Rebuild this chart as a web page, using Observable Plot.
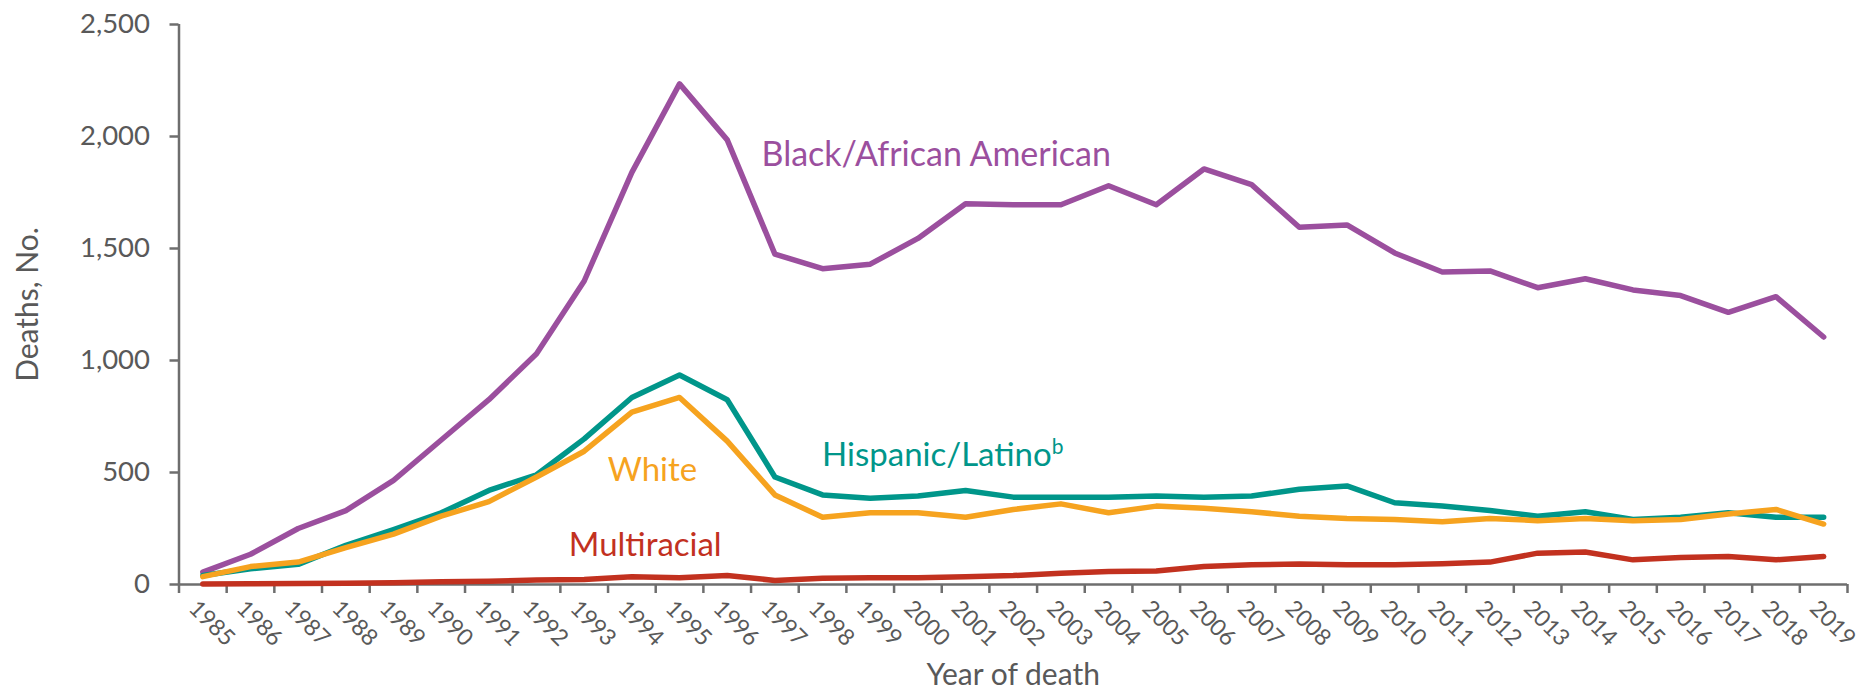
<!DOCTYPE html>
<html>
<head>
<meta charset="utf-8">
<script src="https://cdn.jsdelivr.net/npm/d3@7"></script>
<script src="https://cdn.jsdelivr.net/npm/@observablehq/plot@0.6"></script>
<style>
  html, body { margin: 0; padding: 0; background: #fff; }
  #chart svg { display: block; }
</style>
</head>
<body>
<div id="chart"></div>
<script>
const years = d3.range(1985, 2020);
const black = [55,135,250,330,465,645,825,1030,1355,1840,2235,1985,1475,1410,1430,1545,1700,1695,1695,1780,1695,1855,1785,1595,1605,1480,1395,1400,1325,1365,1315,1290,1215,1285,1105];
const hispanic = [40,70,90,175,245,320,420,490,650,835,935,825,480,400,385,395,420,390,390,390,395,390,395,425,440,365,350,330,305,325,290,300,320,300,300];
const white = [35,80,100,165,225,305,370,480,595,770,835,640,400,300,320,320,300,335,360,320,350,340,325,305,295,290,280,295,285,295,285,290,315,335,270];
const multiracial = [2,3,4,6,8,12,14,20,22,35,30,40,18,28,30,30,35,40,50,58,60,80,88,92,88,88,93,100,140,145,110,120,125,110,125];
const seriesNames = ["Black/African American", "Hispanic/Latino", "White", "Multiracial"];
const seriesColors = ["#9b4f9e", "#00968a", "#f6a31f", "#c2311f"];
const yTicks = [0, 500, 1000, 1500, 2000, 2500];

const seriesValues = [black, hispanic, white, multiracial];
const rows = seriesNames.flatMap((name, k) => years.map((yr, i) => ({series: name, year: yr, deaths: seriesValues[k][i]})));
const boundaries = d3.range(1985, 2021).map(y => y - 0.5);

const axisGray = "#6e6e6e";
const textGray = "#595959";
const font = "Lato, 'Open Sans', sans-serif";

const chart = Plot.plot({
  width: 1864,
  height: 693,
  marginLeft: 178.5,
  marginRight: 17,
  marginTop: 24,
  marginBottom: 109,
  style: {fontFamily: font, background: "#fff"},
  x: {type: "linear", domain: [1984.5, 2019.5]},
  y: {domain: [0, 2500]},
  color: {domain: seriesNames, range: seriesColors},
  marks: [
    Plot.axisY(yTicks, {tickSize: 9, tickPadding: 20, tickFormat: d3.format(","), fontSize: 27.5, color: textGray, stroke: axisGray, strokeWidth: 2.5, label: null}),
    Plot.axisX(boundaries, {tickSize: 9, tickFormat: () => "", stroke: axisGray, strokeWidth: 2.5, label: null}),
    Plot.axisX(years, {tickSize: 0, tickPadding: 20, tickRotate: 45, tickFormat: d => String(d), fontSize: 23, dx: -10, color: textGray, label: null}),
    Plot.ruleY([0], {stroke: axisGray, strokeWidth: 2.5}),
    Plot.ruleX([1984.5], {stroke: axisGray, strokeWidth: 2.5}),
    Plot.line(rows, {x: "year", y: "deaths", z: "series", stroke: "series", strokeWidth: 5.5, strokeLinejoin: "round", strokeLinecap: "round"}),
    Plot.text([seriesNames[0]], {x: 1996.72, y: 1917, text: d => d, fill: seriesColors[0], textAnchor: "start", fontSize: 34, lineAnchor: "middle"}),
    Plot.text([seriesNames[1]], {x: 1997.99, y: 576, text: d => d, fill: seriesColors[1], textAnchor: "start", fontSize: 33, lineAnchor: "middle"}),
    Plot.text([seriesNames[2]], {x: 1994.43, y: 509, text: d => d, fill: seriesColors[2], textAnchor: "middle", fontSize: 33, lineAnchor: "middle"}),
    Plot.text([seriesNames[3]], {x: 1994.28, y: 174, text: d => d, fill: seriesColors[3], textAnchor: "middle", fontSize: 33, lineAnchor: "middle"}),
    Plot.text(["Year of death"], {x: 2002, y: 0, text: d => d, fill: textGray, fontSize: 30, dy: 91, lineAnchor: "middle"}),
    Plot.text(["Deaths, No."], {x: 1984.5, y: 1250, text: d => d, fill: textGray, fontSize: 30, rotate: -90, dx: -151, lineAnchor: "middle"})
  ]
});

// superscript "b" after Hispanic/Latino
d3.select(chart).selectAll("text").filter(function() { return this.textContent === "Hispanic/Latino"; })
  .append("tspan").attr("baseline-shift", "super").attr("font-size", 21).text("b");

document.getElementById("chart").appendChild(chart);
</script>
</body>
</html>
